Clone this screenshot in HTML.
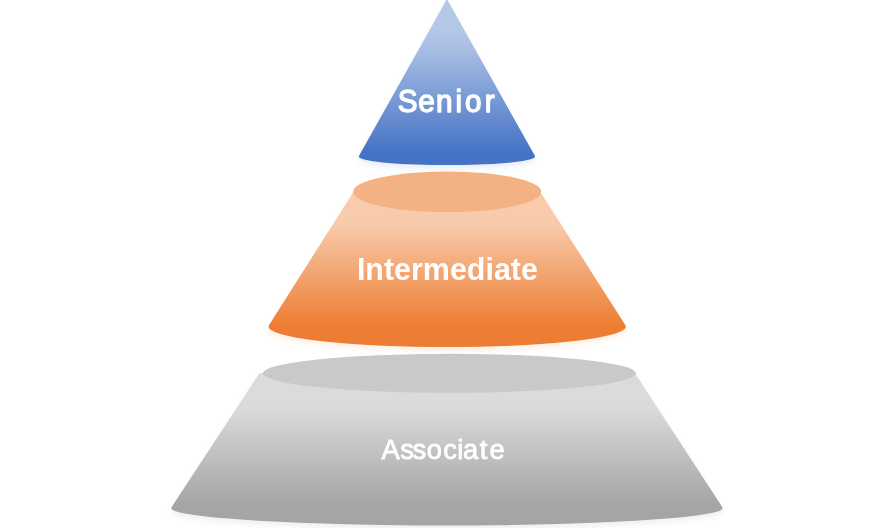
<!DOCTYPE html>
<html><head><meta charset="utf-8">
<style>
html,body{margin:0;padding:0;background:#fff;}
body{width:894px;height:528px;overflow:hidden;}
svg{display:block;}
text{font-family:"Liberation Sans",sans-serif;fill:#fff;opacity:0.995;}
</style></head><body>
<svg width="894" height="528" viewBox="0 0 894 528">
<defs>
<linearGradient id="gb" x1="0" y1="0" x2="0" y2="1">
<stop offset="0" stop-color="#b4c7e7"/><stop offset="0.2" stop-color="#b4c7e7"/><stop offset="0.3" stop-color="#a8bee4"/><stop offset="0.93" stop-color="#4472c4"/><stop offset="1" stop-color="#4472c4"/>
</linearGradient>
<linearGradient id="go" x1="0" y1="0" x2="0" y2="1">
<stop offset="0" stop-color="#f8cbad"/><stop offset="0.2" stop-color="#f8cbad"/><stop offset="0.87" stop-color="#ed7d31"/><stop offset="1" stop-color="#ed7d31"/>
</linearGradient>
<linearGradient id="gg" x1="0" y1="0" x2="0" y2="1">
<stop offset="0" stop-color="#dbdbdb"/><stop offset="0.22" stop-color="#dbdbdb"/><stop offset="0.86" stop-color="#a5a5a5"/><stop offset="1" stop-color="#a5a5a5"/>
</linearGradient>
<filter id="shb" x="-10%" y="-10%" width="120%" height="130%"><feGaussianBlur in="SourceAlpha" stdDeviation="2.5"/><feOffset dy="3.5" result="o"/><feFlood flood-color="#4472c4" flood-opacity="0.11"/><feComposite in2="o" operator="in"/><feMerge><feMergeNode/><feMergeNode in="SourceGraphic"/></feMerge></filter>
<filter id="sho" x="-10%" y="-10%" width="120%" height="130%"><feGaussianBlur in="SourceAlpha" stdDeviation="2.5"/><feOffset dy="3.5" result="o"/><feFlood flood-color="#ed7d31" flood-opacity="0.11"/><feComposite in2="o" operator="in"/><feMerge><feMergeNode/><feMergeNode in="SourceGraphic"/></feMerge></filter>
<filter id="shg" x="-10%" y="-10%" width="120%" height="130%"><feGaussianBlur in="SourceAlpha" stdDeviation="2.5"/><feOffset dy="3.5" result="o"/><feFlood flood-color="#808080" flood-opacity="0.11"/><feComposite in2="o" operator="in"/><feMerge><feMergeNode/><feMergeNode in="SourceGraphic"/></feMerge></filter>
</defs>
<!-- gray -->
<path d="M259.40,373.30 L635.00,373.30 L722.08,506.74 Q722.90,508.00 722.22,509.22 A275.95,17.50 0 0 1 171.68,509.22 Q171.00,508.00 171.82,506.75 Z" fill="url(#gg)" filter="url(#shg)"/>
<ellipse cx="449.4" cy="373.3" rx="186.6" ry="19.5" fill="#c9c9c9"/>
<!-- orange -->
<path d="M353.50,191.70 L540.20,191.70 L625.12,324.81 Q626.20,326.50 625.31,328.55 A179.00,20.50 0 0 1 269.09,328.55 Q268.20,326.50 269.27,324.81 Z" fill="url(#go)" filter="url(#sho)"/>
<ellipse cx="447.2" cy="191.8" rx="94" ry="20.3" fill="#f4b183"/>
<!-- blue -->
<path d="M446.95,-1.00 L534.71,155.55 Q535.30,156.60 534.66,157.62 A88.35,8.50 0 0 1 359.24,157.62 Q358.60,156.60 359.19,155.55 Z" fill="url(#gb)" filter="url(#shb)"/>
<text transform="scale(0.94,1)" x="423.03 444.91 463.90 484.53 494.62 515.65" y="112" font-size="31.6" stroke="#fff" stroke-width="1.4" stroke-linejoin="round">Senior</text>
<text x="447.4" y="279.9" font-size="30.5" font-weight="bold" text-anchor="middle" textLength="181" lengthAdjust="spacingAndGlyphs">Intermediate</text>
<text x="381.50 400.26 412.61 426.79 443.18 457.26 462.92 479.79 489.47" y="459.1" font-size="27.3" stroke="#fff" stroke-width="0.8" stroke-linejoin="round">Associate</text>
</svg>
</body></html>
